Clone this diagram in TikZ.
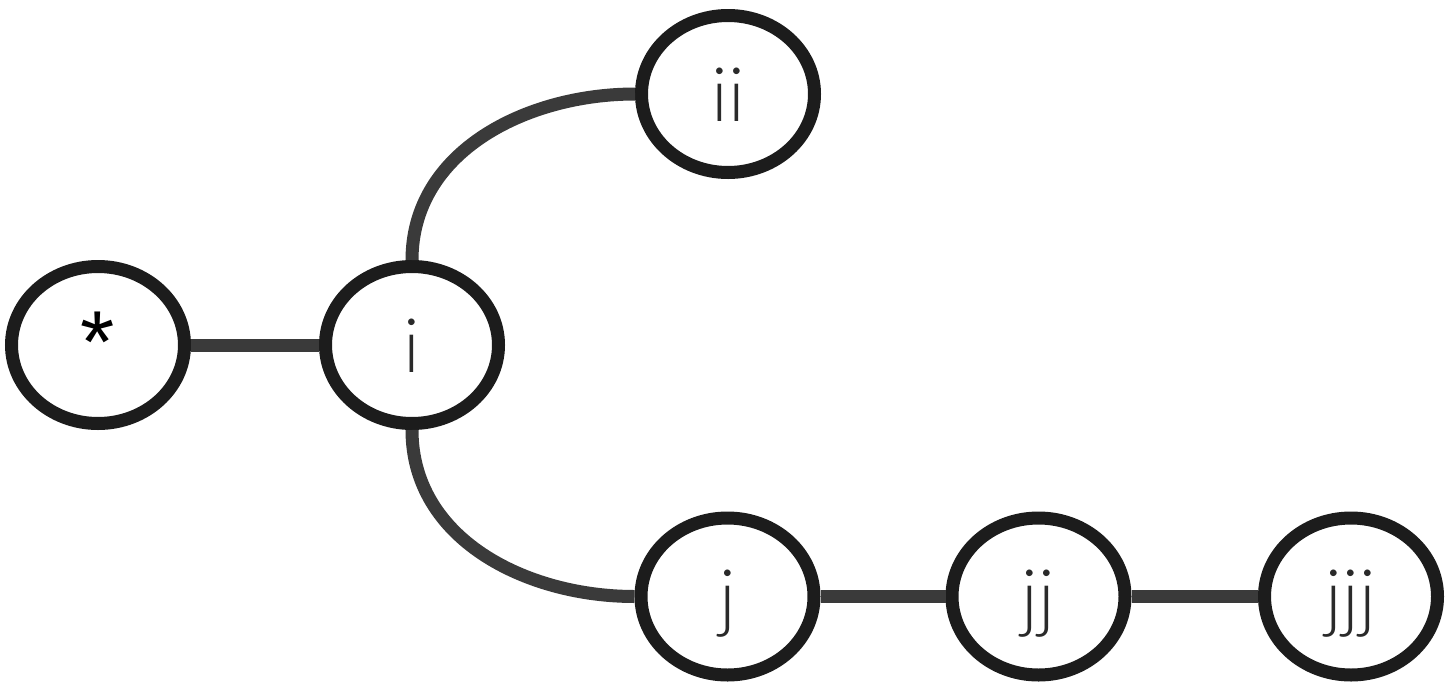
\documentclass[tikz,border=0pt]{standalone}
\usepackage{fontspec}
\setmainfont{Lato Light}
\newfontfamily\starfont{Liberation Sans}[BoldFont=*]
\usetikzlibrary{shapes.geometric}
\definecolor{ringcol}{HTML}{1C1C1C}
\definecolor{linkcol}{HTML}{3A3A3A}
\definecolor{txtcol}{HTML}{2A2A2A}
\begin{document}
\begin{tikzpicture}[x=0.5pt,y=-0.5pt,
  vtx/.style={ellipse, draw=ringcol, line width=6.5pt, fill=white, inner sep=0pt,
    minimum width=86.5pt, minimum height=78.5pt, text=txtcol,
    font=\fontsize{37.5}{40}\selectfont, text height=27pt, text depth=0pt},
  link/.style={draw=linkcol, line width=6.5pt}]
\useasboundingbox (0,0) rectangle (1446,691);
\node[vtx] (s) at (98,345) {\starfont\bfseries\fontsize{44}{48}\selectfont\textcolor{black}{*}};
\node[vtx] (i) at (412,345) {i};
\node[vtx] (ii) at (728,94) {ii};
\node[vtx] (j) at (727.5,596.5) {j};
\node[vtx] (jj) at (1038.5,596.5) {jj};
\node[vtx] (jjj) at (1351,596.5) {jjj};
\draw[link] (s.east) -- (i.west);
\draw[link] (i.north) to[out=90,in=180] (ii.west);
\draw[link] (i.south) to[out=-90,in=180] (j.west);
\draw[link] (j.east) -- (jj.west);
\draw[link] (jj.east) -- (jjj.west);
\end{tikzpicture}
\end{document}
